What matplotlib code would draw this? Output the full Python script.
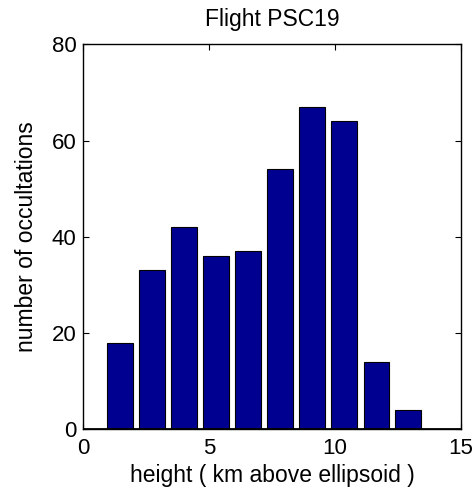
import matplotlib
matplotlib.use('Agg')
import matplotlib.pyplot as plt

plt.rcParams['font.family'] = ['Liberation Sans', 'DejaVu Sans']

# bin centres (km) and counts
centres = [1.46, 2.73, 4.01, 5.28, 6.55, 7.83, 9.10, 10.37, 11.65, 12.92]
counts = [18, 33, 42, 36, 37, 54, 67, 64, 14, 4]
xticks = [0, 5, 10, 15]
yticks = [0, 20, 40, 60, 80]

fig = plt.figure(figsize=(4.77, 4.95), dpi=100)
ax = fig.add_axes([0.1747, 0.1327, 0.791, 0.7778])

ax.bar(centres, counts, width=1.02, color='#000090', edgecolor='black', linewidth=0.8, zorder=2)
ax.axhline(0, color='black', linewidth=2, zorder=3)

ax.set_xlim(0, 15)
ax.set_ylim(0, 80)
ax.set_xticks(xticks)
ax.set_yticks(yticks)
ax.tick_params(direction='in', top=True, right=True, length=4, labelsize=16)
ax.tick_params(axis='x', pad=6)
ax.tick_params(axis='y', pad=5)
for s in ax.spines.values():
    s.set_linewidth(1)

ax.set_title('Flight PSC19', fontsize=16.5, pad=13)
ax.set_xlabel('height ( km above ellipsoid )', fontsize=16.5, labelpad=4)
ax.set_ylabel('number of occultations', fontsize=16.5, labelpad=10)

fig.savefig('out.png', dpi=100)
